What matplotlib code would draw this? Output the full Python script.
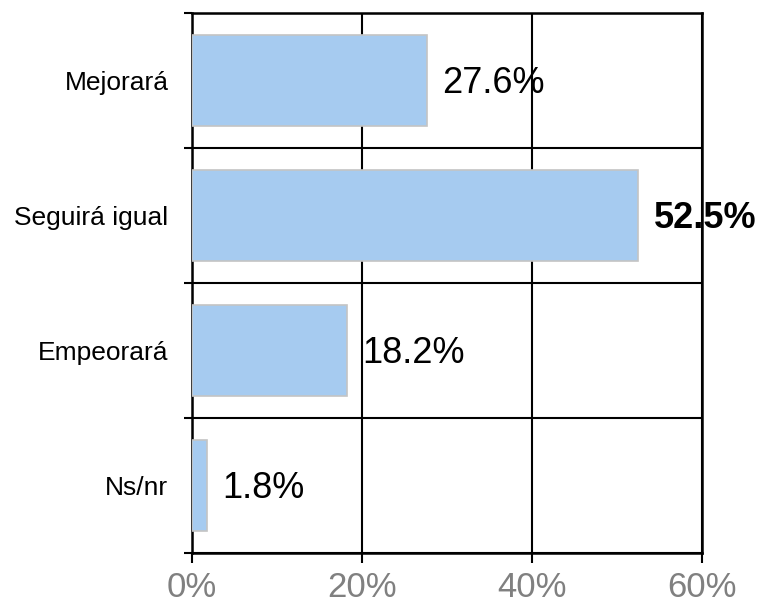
import numpy as np
import matplotlib
matplotlib.use("Agg")
import matplotlib.pyplot as plt

categories = ["Mejorará", "Seguirá igual", "Empeorará", "Ns/nr"]
values = [27.6, 52.5, 18.2, 1.8]
xticks = [0, 20, 40, 60]
xtick_labels = ["0%", "20%", "40%", "60%"]

plt.rcParams['font.family'] = ['Liberation Sans', 'DejaVu Sans']

fig = plt.figure(figsize=(7.61, 6.07), dpi=100)
ax = fig.add_axes([0.2523, 0.0890, 0.9225 - 0.2523, 0.9786 - 0.0890])

y = np.arange(len(categories))
ax.barh(y, values, height=0.68, color='#a6cbf0', edgecolor='#c4c4c4',
        linewidth=1.2, zorder=3)

# value labels, largest one in bold
top = max(values)
for yi, v in zip(y, values):
    ax.annotate(f"{v:.1f}%", xy=(v, yi), xytext=(11, -2),
                textcoords='offset points', va='center', ha='left',
                fontsize=26, fontweight='bold' if v == top else 'normal',
                color='black', zorder=5)

ax.set_xlim(0, 60)
ax.set_ylim(len(categories) - 0.5, -0.5)

ax.set_xticks(xticks)
ax.set_xticklabels(xtick_labels, fontsize=25, color='#808080')
ax.tick_params(axis='x', direction='out', length=7, width=1.5, pad=6)

ax.set_yticks(y)
ax.set_yticklabels(categories, fontsize=19)
ax.set_yticks(np.arange(len(categories) + 1) - 0.5, minor=True)
ax.tick_params(axis='y', which='major', length=0, pad=17)
ax.tick_params(axis='y', which='minor', direction='out', length=6, width=1.5)

ax.grid(axis='x', which='major', color='black', linewidth=1.5, zorder=1)
ax.grid(axis='y', which='minor', color='black', linewidth=1.5, zorder=1)
ax.set_axisbelow(True)

for s in ax.spines.values():
    s.set_linewidth(1.8)
    s.set_color('black')

fig.savefig("out.png", dpi=100)
